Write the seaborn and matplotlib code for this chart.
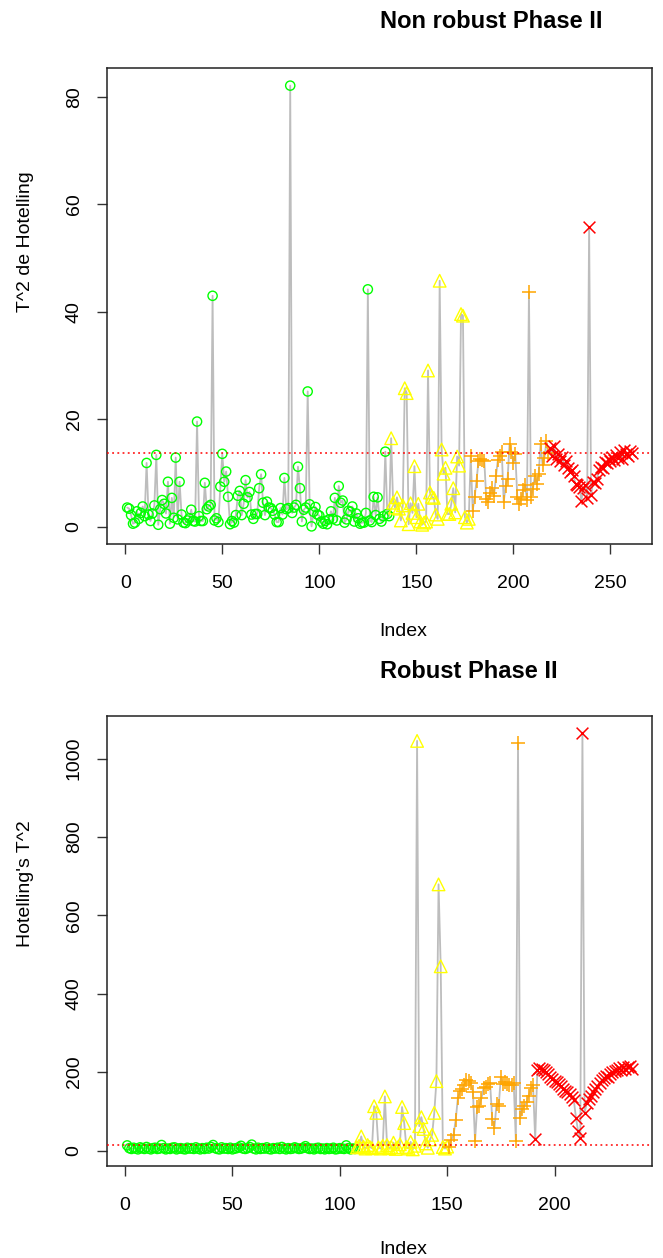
import numpy as np
import pandas as pd
import matplotlib
matplotlib.use("Agg")
import matplotlib.pyplot as plt
import seaborn as sns

sns.set_theme(style="white")
plt.rcParams['font.family'] = ['Liberation Sans', 'DejaVu Sans']

# ---- Non robust Phase II: Hotelling T^2 by observation, four regimes ----
nr_green = [3.6, 3.4, 2.2, 0.6, 0.8, 2.9, 1.5, 2.6, 3.8, 2.0,
            11.9, 2.3, 1.1, 2.5, 4.0, 13.4, 0.4, 3.3, 5.0, 4.3,
            2.5, 8.4, 0.6, 5.4, 1.7, 12.9, 1.4, 8.4, 2.3, 0.8,
            0.7, 1.2, 1.6, 3.2, 1.1, 1.0, 19.6, 2.0, 1.1, 1.1,
            8.2, 3.3, 3.8, 4.1, 43.0, 1.2, 1.6, 0.9, 7.5, 13.6,
            8.4, 10.3, 5.6, 0.5, 1.1, 0.8, 2.2, 5.8, 6.7, 2.2,
            4.3, 8.7, 5.5, 6.5, 2.3, 1.5, 2.4, 2.4, 7.2, 9.8,
            4.5, 2.2, 4.7, 3.6, 3.5, 3.0, 2.3, 0.9, 0.9, 3.5,
            2.3, 9.1, 3.3, 3.5, 82.1, 2.6, 3.6, 4.1, 11.2, 7.2,
            1.0, 3.2, 3.6, 25.2, 4.2, 0.1, 2.8, 3.7, 2.3, 2.1,
            1.0, 0.6, 1.1, 0.5, 1.4, 2.9, 1.5, 5.4, 1.2, 7.6,
            4.5, 4.9, 0.8, 1.4, 3.0, 2.8, 3.8, 1.0, 2.5, 1.6,
            0.6, 0.8, 0.8, 2.6, 44.2, 1.2, 0.9, 5.6, 2.2, 5.5,
            1.5, 1.0, 2.0, 14.0, 2.4, 2.0]
nr_yellow = [16.5, 4.5, 3.6, 5.5, 3.4, 1.2, 4.0, 25.8, 24.9, 0.5,
             4.4, 2.6, 11.3, 1.8, 4.3, 1.0, 0.4, 0.8, 1.0, 29.1,
             6.4, 5.6, 5.4, 2.3, 1.5, 45.8, 14.4, 9.9, 11.0, 2.4,
             2.4, 4.3, 7.2, 2.7, 13.1, 11.4, 39.6, 39.3, 1.8, 0.8,
             1.5]
nr_orange = [13.2, 3.0, 5.5, 8.6, 12.3, 12.7, 12.4, 12.3, 5.2, 4.6,
             6.4, 7.3, 5.8, 9.4, 12.5, 13.1, 14.0, 4.6, 7.7, 9.0,
             15.4, 14.0, 11.9, 13.5, 5.5, 4.3, 5.1, 6.9, 7.8, 5.0,
             43.7, 5.6, 7.0, 9.4, 8.0, 9.8, 15.4, 11.5, 12.9, 15.9,
             13.7]
nr_red = [14.7, 13.2, 15.0, 12.6, 13.6, 12.2, 13.0, 11.6, 12.3, 11.0,
          10.2, 10.5, 9.4, 8.0, 7.8, 7.5, 4.9, 7.2, 7.8, 5.4,
          55.8, 6.0, 8.3, 8.1, 9.0, 10.6, 11.2, 11.0, 12.0, 11.8,
          12.7, 12.2, 13.0, 12.5, 13.4, 12.8, 13.9, 12.6, 14.3, 13.5,
          13.2, 14.1, 13.8]
nr_limit = 13.8

# ---- Robust Phase II ----
rb_green = [13, 6, 4, 7, 5, 3, 8, 6, 4, 9,
            5, 3, 6, 7, 4, 5, 14, 6, 3, 5,
            4, 7, 8, 3, 5, 6, 4, 3, 7, 5,
            6, 4, 8, 5, 3, 6, 4, 7, 5, 9,
            14, 6, 4, 3, 8, 5, 6, 4, 7, 3,
            5, 6, 8, 12, 5, 4, 6, 9, 15, 5,
            3, 7, 4, 6, 5, 8, 4, 3, 6, 5,
            7, 4, 9, 5, 3, 6, 4, 5, 8, 6,
            4, 5, 7, 11, 6, 4, 5, 3, 6, 7,
            4, 5, 3, 6, 4, 5, 7, 3, 4, 6,
            5, 4, 13, 6, 3, 5, 4]
rb_yellow = [8, 12, 36, 10, 5, 14, 9, 6, 113, 96,
             8, 5, 12, 138, 14, 6, 9, 20, 4, 8,
             16, 111, 70, 9, 5, 22, 3, 12, 1045, 62,
             85, 55, 18, 7, 28, 40, 96, 177, 679, 470,
             9, 5, 10]
rb_orange = [10, 28, 40, 79, 134, 151, 156, 168, 181, 178,
             172, 150, 25, 112, 113, 134, 160, 163, 170, 172,
             80, 57, 118, 113, 187, 170, 174, 170, 166, 168,
             172, 25, 1040, 83, 105, 113, 124, 140, 160, 166]
rb_red = [29, 205, 211, 208, 206, 200, 195, 188, 183, 178,
          175, 170, 164, 158, 152, 149, 145, 137, 128, 83,
          50, 32, 1066, 96, 120, 132, 140, 150, 158, 165,
          172, 180, 185, 190, 188, 195, 200, 203, 205, 210,
          205, 214, 208, 212, 215, 207]
rb_limit = 14.6

regime_colors = ["#00FF00", "#FFFF00", "#FFA500", "#FF0000"]
regime_markers = ["o", "^", "+", "x"]
regime_sizes = [44, 82, 100, 72]

W, H = 663, 1258
fig = plt.figure(figsize=(W / 100, H / 100), dpi=100)
fig.patch.set_facecolor("white")


def px_box(left, top, right, bottom):
    return [left / W, 1 - bottom / H, (right - left) / W, (bottom - top) / H]


def panel(box, groups, limit, xticks, yticks, title, ylabel, title_y, xlab_y):
    ax = fig.add_axes(px_box(*box))
    values = np.concatenate([np.asarray(g, float) for g in groups])
    idx = np.arange(1, len(values) + 1)
    df = pd.DataFrame({"Index": idx, "T2": values})

    # connecting line behind the points
    sns.lineplot(data=df, x="Index", y="T2", ax=ax, color="#bdbdbd",
                 linewidth=1.3, estimator=None, sort=False, zorder=1)

    start = 0
    for g, col, mk, sz in zip(groups, regime_colors, regime_markers, regime_sizes):
        sub = df.iloc[start:start + len(g)]
        start += len(g)
        if mk in ("o", "^"):
            sns.scatterplot(data=sub, x="Index", y="T2", ax=ax, marker=mk,
                            s=sz, facecolors="none", edgecolor=col,
                            linewidth=1.0, zorder=2)
        else:
            sns.scatterplot(data=sub, x="Index", y="T2", ax=ax, marker=mk,
                            s=sz, color=col, linewidth=1.1, zorder=2)

    ax.axhline(limit, color="#FF0000", linestyle=(0, (1.2, 2.2)),
               linewidth=1.1, zorder=3)

    ax.margins(x=0.04, y=0.04)
    ax.set_xticks(xticks)
    ax.set_yticks(yticks)
    ax.set_xlabel("")
    ax.set_ylabel("")
    ax.grid(False)
    for sp in ax.spines.values():
        sp.set_color("#222222")
        sp.set_linewidth(1.1)
    ax.tick_params(axis="both", direction="out", length=7.5, width=1.0,
                   color="#333333", labelsize=14, labelcolor="black")
    ax.tick_params(axis="x", pad=15, bottom=True)
    ax.tick_params(axis="y", pad=10, left=True, labelrotation=90)
    for lab in ax.get_yticklabels():
        lab.set_va("center")

    cx = (box[0] + box[2]) / 2 / W
    cy = 1 - (box[1] + box[3]) / 2 / H
    fig.text(cx, 1 - title_y / H, title, ha="left", va="center",
             fontsize=17, fontweight="bold", color="black")
    fig.text(cx, 1 - xlab_y / H, "Index", ha="left", va="center",
             fontsize=14, color="black")
    fig.text(25 / W, cy - 6 / H, ylabel, rotation=90, ha="center", va="bottom",
             fontsize=14, color="black")
    return ax


panel((107, 68, 652, 544), [nr_green, nr_yellow, nr_orange, nr_red], nr_limit,
      [0, 50, 100, 150, 200, 250], [0, 20, 40, 60, 80],
      "Non robust Phase II", "T^2 de Hotelling", 22, 632)

panel((107, 716, 652, 1166), [rb_green, rb_yellow, rb_orange, rb_red], rb_limit,
      [0, 50, 100, 150, 200], [0, 200, 400, 600, 800, 1000],
      "Robust Phase II", "Hotelling's T^2", 672, 1249)

fig.savefig("out.png", dpi=100, facecolor="white")
